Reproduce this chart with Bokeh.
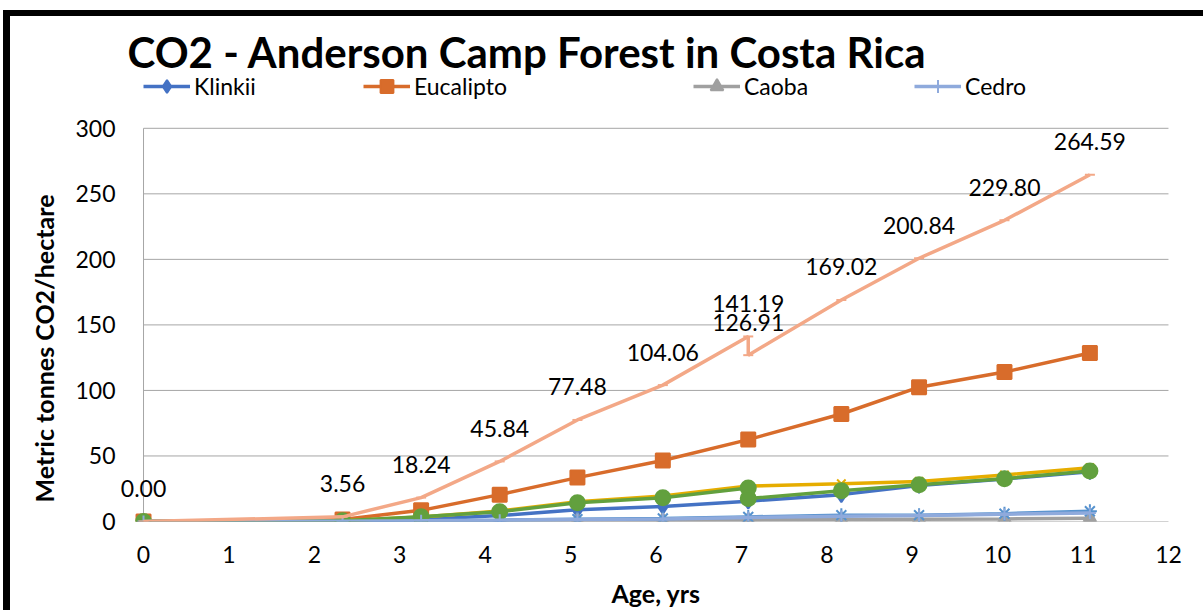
from bokeh.plotting import figure
from bokeh.models import (ColumnDataSource, Legend, LegendItem, Label, LabelSet,
                          FixedTicker, Range1d, Title)
from bokeh.core.properties import value
from bokeh.embed import file_html
from bokeh.resources import INLINE

# ---------------- data ----------------
age = [0, 2.33, 3.25, 4.17, 5.08, 6.08, 7.08, 8.17, 9.08, 10.08, 11.08]
age_split = [0, 2.33, 3.25, 4.17, 5.08, 6.08, 7.08, 7.08, 8.17, 9.08, 10.08, 11.08]

klinkii = [0, 0.3, 1.5, 4.5, 9.0, 11.5, 15.5, 20.5, 27.5, 32.5, 38.0]
eucalipto = [0, 1.5, 8.5, 20.5, 33.5, 46.5, 62.5, 82.0, 102.5, 114.0, 128.5]
caoba = [0, 0.1, 0.3, 0.5, 0.8, 1.0, 1.2, 1.5, 1.8, 2.0, 2.5]
serie_amarilla = [0, 0.5, 3.5, 8.0, 15.0, 19.5, 27.0, 28.8, 30.5, 35.5, 41.0]
serie_asterisco = [0, 0.2, 0.6, 1.0, 1.7, 2.3, 3.5, 4.8, 4.8, 6.0, 7.8]
serie_verde = [0, 0.5, 3.6, 7.5, 14.3, 18.2, 25.5, 17.5, 23.5, 28.0, 32.7, 38.5]
cedro = [0, 0.2, 0.5, 1.0, 1.5, 2.0, 3.0, 4.0, 4.5, 5.5, 6.5]
total = [0.00, 3.56, 18.24, 45.84, 77.48, 104.06, 141.19, 126.91, 169.02,
         200.84, 229.80, 264.59]

x_ticks = list(range(0, 13))
y_ticks = [0, 50, 100, 150, 200, 250, 300]

TITLE = "CO2 - Anderson Camp Forest in Costa Rica"
X_LABEL = "Age, yrs"
Y_LABEL = "Metric tonnes CO2/hectare"
FONT = "Lato"
GRID = "#A6A6A6"

# ---------------- figure ----------------
# the frame is a little wider/taller than the axes so that title, legend,
# data labels and edge markers are not clipped
p = figure(width=1203, height=610, output_backend="svg", toolbar_location=None,
           x_range=Range1d(-0.293, 12.293), y_range=Range1d(0, 379.2),
           min_border_left=118, min_border_right=10,
           min_border_top=24, min_border_bottom=88)
p.styles = {"box-shadow": "inset 3px 10px 0px 0px white, inset 10px 16px 0px 0px black"}
p.border_fill_color = None
p.outline_line_color = None
p.background_fill_color = "white"

p.xgrid.visible = False
p.ygrid.visible = False

for ax in (p.xaxis[0], p.yaxis[0]):
    ax.axis_line_color = None
    ax.major_tick_line_color = None
    ax.minor_tick_line_color = None
    ax.major_label_text_font = FONT
    ax.major_label_text_font_size = "23px"
    ax.major_label_text_color = "black"
    ax.axis_label_text_font = FONT
    ax.axis_label_text_font_size = "25px"
    ax.axis_label_text_font_style = "bold"
    ax.axis_label_text_color = "black"

p.xaxis.ticker = FixedTicker(ticks=x_ticks)
p.yaxis.ticker = FixedTicker(ticks=y_ticks)
p.xaxis.axis_label = X_LABEL
p.xaxis.major_label_standoff = 18
p.xaxis.axis_label_standoff = 12
p.yaxis.major_label_standoff = -3

p.add_layout(Title(text=Y_LABEL, align="left", offset=19, standoff=27,
                   text_font=FONT, text_font_size="25px",
                   text_font_style="bold", text_color="black"), "left")

# horizontal gridlines (from x=0 to x=12) and the value axis line at x=0
p.segment(x0=[x_ticks[0]] * len(y_ticks), x1=[x_ticks[-1]] * len(y_ticks),
          y0=y_ticks, y1=y_ticks, line_color=GRID, line_width=1)
p.segment(x0=[x_ticks[0]], x1=[x_ticks[0]], y0=[y_ticks[0]], y1=[y_ticks[-1]],
          line_color=GRID, line_width=1)

LW = 3.5

def series(xs, ys, color, marker, size, fill=True):
    src = ColumnDataSource(dict(x=xs, y=ys))
    lr = p.line("x", "y", source=src, line_color=color, line_width=LW)
    sr = p.scatter("x", "y", source=src, marker=marker, size=size,
                   line_color=color, fill_color=color if fill else None,
                   line_width=2)
    return lr, sr

r_kl = series(age, klinkii, "#4472C4", "diamond", 15)
r_eu = series(age, eucalipto, "#D86C2B", "square", 14)
r_ca = series(age, caoba, "#A0A0A0", "triangle", 13)
r_am = series(age, serie_amarilla, "#E6AD00", "x", 12, fill=False)
r_as = series(age, serie_asterisco, "#5592CE", "asterisk", 14, fill=False)
r_ve = series(age_split, serie_verde, "#62A03E", "circle", 15)
r_ce = series(age, cedro, "#8FAADC", "cross", 12, fill=False)
r_to = series(age_split, total, "#F3A887", "dash", 10, fill=False)

lbl_src = ColumnDataSource(dict(x=age_split, y=total,
                                t=[f"{v:.2f}" for v in total]))
p.add_layout(LabelSet(x="x", y="y", text="t", source=lbl_src,
                      text_align="center", text_baseline="middle",
                      y_offset=33, text_font=value(FONT),
                      text_font_size=value("23px"),
                      text_color="black"))

# chart title (inside the extended frame)
p.add_layout(Label(x=9, y=470, x_units="screen", y_units="screen",
                   text=TITLE, text_font=FONT, text_font_style="bold",
                   text_font_size="42px", text_color="black",
                   text_baseline="alphabetic", text_align="left"))

# legends (one per entry, positioned like the reference)
for name, rends, lx in [("Klinkii", r_kl, 25), ("Eucalipto", r_eu, 245),
                        ("Caoba", r_ca, 575), ("Cedro", r_ce, 796)]:
    leg = Legend(items=[LegendItem(label=name, renderers=list(rends))],
                 location=(lx, 419), orientation="horizontal",
                 border_line_color=None, background_fill_alpha=0,
                 padding=0, margin=0, spacing=0,
                 glyph_width=47, glyph_height=32, label_standoff=4,
                 label_text_font=FONT, label_text_font_size="23px",
                 label_text_color="black")
    p.add_layout(leg)

open("out.html", "w").write(file_html(p, INLINE))
